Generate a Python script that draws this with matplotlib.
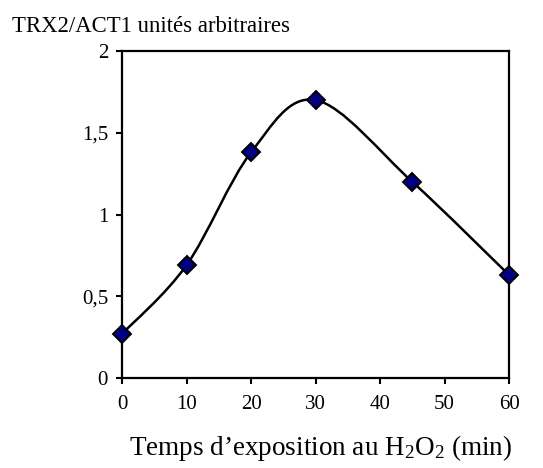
import numpy as np
import matplotlib
matplotlib.use("Agg")
from matplotlib import pyplot as plt
from matplotlib.path import Path
from matplotlib.patches import PathPatch

# TRX2 expression vs exposure time
temps = [0, 10, 20, 30, 45, 60]
trx2 = [0.27, 0.69, 1.38, 1.70, 1.20, 0.63]
yticks = [0, 0.5, 1, 1.5, 2]
ytick_labels = ["0", "0,5", "1", "1,5", "2"]
xticks = [0, 10, 20, 30, 40, 50, 60]

plt.rcParams['font.family'] = ['Liberation Serif', 'DejaVu Serif']
plt.rcParams['mathtext.fontset'] = 'custom'
plt.rcParams['mathtext.rm'] = 'Liberation Serif'
plt.rcParams['mathtext.it'] = 'Liberation Serif'

fig = plt.figure(figsize=(5.43, 4.68), dpi=100)
ax = fig.add_axes([0.2247, 0.1923, 0.9374 - 0.2247, 0.8910 - 0.1923])

# Excel-like smoothed line (bezier through the points)
x = np.array(temps, dtype=float)
y = np.array(trx2, dtype=float)
verts = [(x[0], y[0])]
codes = [Path.MOVETO]
n = len(x)
for i in range(n - 1):
    x0, y0 = (x[i - 1], y[i - 1]) if i > 0 else (x[i], y[i])
    x3, y3 = (x[i + 2], y[i + 2]) if i + 2 < n else (x[i + 1], y[i + 1])
    c1 = (x[i] + (x[i + 1] - x0) / 6, y[i] + (y[i + 1] - y0) / 6)
    c2 = (x[i + 1] - (x3 - x[i]) / 6, y[i + 1] - (y3 - y[i]) / 6)
    verts += [c1, c2, (x[i + 1], y[i + 1])]
    codes += [Path.CURVE4] * 3
ax.add_patch(PathPatch(Path(verts, codes), facecolor='none', edgecolor='black', lw=1.8, zorder=2))

ax.plot(temps, trx2, linestyle='none', marker='D', markersize=9,
        markerfacecolor='#000080', markeredgecolor='black', markeredgewidth=1.4, zorder=3, clip_on=False)

ax.set_xlim(0, 60)
ax.set_ylim(0, 2)
ax.set_xticks(xticks)
ax.set_yticks(yticks)
ax.set_yticklabels(ytick_labels)
ax.tick_params(direction='out', length=4, width=1.5, labelsize=15, colors='black')
ax.tick_params(axis='x', pad=8)
ax.tick_params(axis='y', pad=6)
for s in ax.spines.values():
    s.set_linewidth(1.6)

fig.text(0.022, 0.932, "TRX2/ACT1 unités arbitraires", fontsize=16.4, ha='left', va='baseline')
fig.text(0.59, 0.028, "Temps d\u2019exposition au H$_2$O$_2$ (min)", fontsize=19.5, ha='center', va='baseline')

fig.savefig("out.png", dpi=100)
